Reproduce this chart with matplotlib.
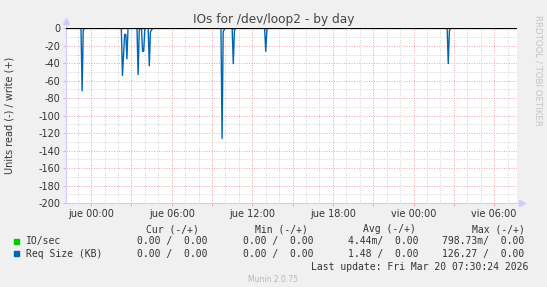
import matplotlib
matplotlib.use("Agg")
import matplotlib.pyplot as plt
from matplotlib.ticker import MultipleLocator, FixedLocator
import numpy as np

# ── data (minutes relative to jue 00:00) ──────────────────────────────────────
T_START_MIN = -112
T_END_MIN   = 1902

req_minutes = [-112,
               -45, -40, -35, -30,
               135, 140, 145, 150, 155, 160, 165,
               205, 210, 215, 220,
               225, 230, 235, 240,
               255, 260, 265, 270, 275,
               580, 585, 590, 595, 600,
               630, 635, 640, 645,
               775, 780, 785, 790,
               1590, 1595, 1600, 1605,
               1890]
req_read = [0,
            0, -71.6, -2.5, 0,
            0, -54, -30, -7, -7, -35, 0,
            0, -53, -2, 0,
            0, -26.3, -26.3, 0,
            0, -43, -4, -2, 0,
            0, -126.3, -4, -1, 0,
            0, -40.4, -3, 0,
            0, -26.3, -2, 0,
            0, -40.4, -3, 0,
            0]

io_minutes = [-112, -45, -40, -35, 135, 140, 145, 205, 210, 215, 225, 230, 235,
              255, 260, 265, 580, 585, 590, 630, 635, 640, 775, 780, 785,
              1590, 1595, 1600, 1890]
io_read = [0, 0, -0.1, 0, 0, -0.2, 0, 0, -0.1, 0, 0, -0.1, 0,
           0, -0.1, 0, 0, -0.2, 0, 0, -0.8, 0, 0, -0.1, 0,
           0, -0.1, 0, 0]

tick_hours  = [0, 6, 12, 18, 24, 30]
tick_labels = ["jue 00:00", "jue 06:00", "jue 12:00", "jue 18:00", "vie 00:00", "vie 06:00"]
y_ticks = [0, -20, -40, -60, -80, -100, -120, -140, -160, -180, -200]

legend_names = ["IO/sec", "Req Size (KB)"]
legend_colors = ["#00cc00", "#0066b3"]
legend_cur = ["0.00 /  0.00", "0.00 /  0.00"]
legend_min = ["0.00 /  0.00", "0.00 /  0.00"]
legend_avg = ["4.44m/  0.00", "1.48 /  0.00"]
legend_max = ["798.73m/  0.00", "126.27 /  0.00"]

# ── figure ───────────────────────────────────────────────────────────────────
W, H = 547, 287
BG = "#f0f0f0"
MONO = "DejaVu Sans Mono"
FS = 7.0

fig = plt.figure(figsize=(W / 100, H / 100), dpi=100, facecolor=BG)

def px(x, y):
    return x / W, 1 - y / H

x0, x1, y0, y1 = 66, 517, 28.3, 203
ax = fig.add_axes([x0 / W, (H - y1) / H, (x1 - x0) / W, (y1 - y0) / H])
ax.set_facecolor("white")
ax.set_xlim(T_START_MIN / 60, T_END_MIN / 60)
ax.set_ylim(-200, 0)

# grid
grid_minor = dict(color="#d4d4d4", lw=0.72, ls=(0, (1, 1.5)))
grid_major = dict(color="#eeaaaa", lw=0.72, ls=(0, (1, 1.5)))
ax.xaxis.set_minor_locator(MultipleLocator(1))
ax.yaxis.set_minor_locator(MultipleLocator(10))
ax.grid(which="minor", **grid_minor)
ax.grid(which="major", **grid_major)
ax.set_axisbelow(True)

major_hours = list(range(0, 33, 3))
ax.set_xticks(major_hours)
ax.set_xticklabels([tick_labels[tick_hours.index(h)] if h in tick_hours else ""
                    for h in major_hours])
ax.yaxis.set_major_locator(FixedLocator(y_ticks))
ax.set_yticks(y_ticks)
ax.set_yticklabels([str(v) for v in y_ticks])

ax.tick_params(which="major", length=2, width=0.7, color="#eeaaaa",
               labelsize=7, labelcolor="#333333", pad=2)
ax.tick_params(which="minor", length=0)

for s in ["top", "right"]:
    ax.spines[s].set_visible(False)
for s in ["left", "bottom"]:
    ax.spines[s].set_color("#ccccff")
    ax.spines[s].set_linewidth(0.8)

# data
ax.plot(np.array(io_minutes) / 60, io_read, color=legend_colors[0], lw=1.0, zorder=3)
ax.plot(np.array(req_minutes) / 60, req_read, color=legend_colors[1], lw=1.0, zorder=4)
ax.axhline(0, color="black", lw=0.9, zorder=5)

# axis arrows
ax.plot([0, 0], [1, 1.04], color="#ccccff", lw=0.8, transform=ax.transAxes, clip_on=False)
ax.plot([0], [1.04], marker="^", ms=4, color="#ccccff", transform=ax.transAxes, clip_on=False)
ax.plot([1, 1.01], [0, 0], color="#ccccff", lw=0.8, transform=ax.transAxes, clip_on=False)
ax.plot([1.01], [0], marker=">", ms=4, color="#ccccff", transform=ax.transAxes, clip_on=False)

# texts
fig.text(*px(273.5, 19), "IOs for /dev/loop2 - by day", ha="center", va="center",
         fontsize=8.7, color="#444444")
fig.text(*px(10, 115.5), "Units read (-) / write (+)", ha="center", va="center",
         rotation=90, fontsize=7, color="#333333")
fig.text(*px(538, 70), "RRDTOOL / TOBI OETIKER", ha="center", va="center",
         rotation=270, fontsize=6.2, color="#c4c4c4")

hdr_y = 229
for x, txt in zip([146, 255, 363, 472], ["Cur (-/+)", "Min (-/+)", "Avg (-/+)", "Max (-/+)"]):
    fig.text(*px(x, hdr_y), txt, ha="left", va="center", family=MONO,
             fontsize=FS, color="#333333")

for i, name in enumerate(legend_names):
    y = 241 + i * 12.8
    fig.patches.append(plt.Rectangle(px(14, y + 2.5), 5 / W, 5 / H,
                                     transform=fig.transFigure, color=legend_colors[i]))
    fig.text(*px(26, y), name, ha="left", va="center", family=MONO,
             fontsize=FS, color="#333333")
    for x, col in zip([137, 243, 348, 442], [legend_cur, legend_min, legend_avg, legend_max]):
        fig.text(*px(x, y), col[i], ha="left", va="center", family=MONO,
                 fontsize=FS, color="#333333")

fig.text(*px(528, 267), "Last update: Fri Mar 20 07:30:24 2026", ha="right", va="center",
         family=MONO, fontsize=FS, color="#333333")
fig.text(*px(273, 280), "Munin 2.0.75", ha="center", va="center",
         fontsize=5.5, color="#b8b8b8")

fig.savefig("out.png", dpi=100, facecolor=BG)
